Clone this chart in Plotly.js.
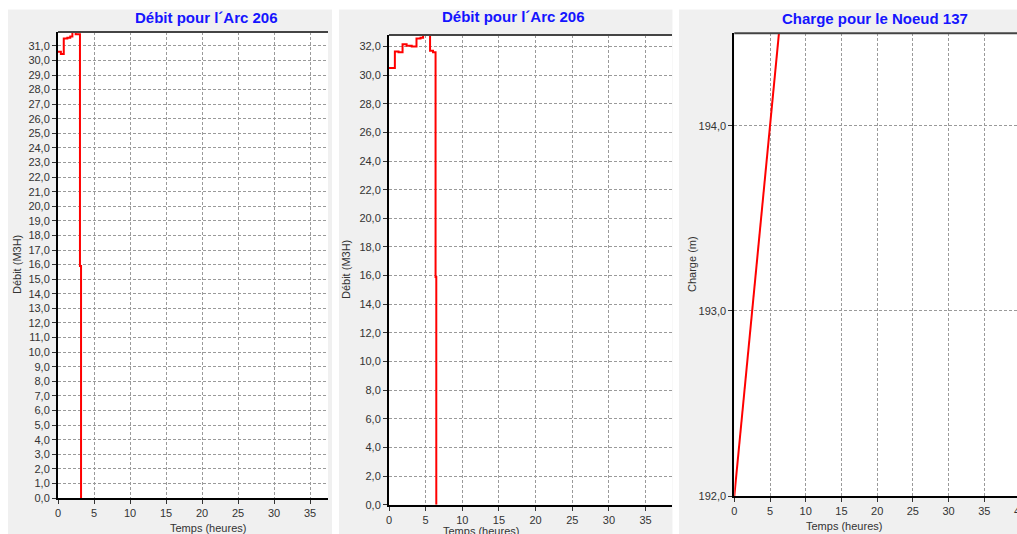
<!DOCTYPE html>
<html>
<head>
<meta charset="utf-8">
<script src="https://cdn.plot.ly/plotly-3.0.1.min.js"></script>
<style>
  html, body { margin: 0; padding: 0; background: #ffffff; overflow: hidden; }
  #chart { width: 1060px; height: 534px; }
</style>
</head>
<body>
<div id="chart"></div>
<script>
// ---- Data ----
const titles = ["Débit pour l´Arc 206", "Débit pour l´Arc 206", "Charge pour le Noeud 137"];
const xTitle = "Temps (heures)";
const yTitles = ["Débit (M3H)", "Débit (M3H)", "Charge (m)"];

// Panel 1: Débit Arc 206 (step series)
const t1 = [0, 0.4, 0.8, 1.3, 1.7, 2.0, 2.45, 3.05, 3.2];
const q1 = [30.6, 30.45, 31.5, 31.55, 31.65, 31.95, 31.8, 15.9, 0];

// Panel 2: Débit Arc 206 (step series)
const t2 = [0, 0.8, 1.3, 1.85, 2.4, 3.1, 3.75, 4.3, 4.65, 5.6, 6.0, 6.35, 6.45];
const q2 = [30.5, 31.65, 31.6, 32.15, 32.05, 32.0, 32.55, 32.6, 32.8, 31.7, 31.6, 15.9, 0];

// Panel 3: Charge Noeud 137
const t3 = [0, 0.25, 1, 2, 3, 4, 5, 6, 7];
const h3 = [192.0, 192.1, 192.38, 192.78, 193.18, 193.59, 194.0, 194.4, 194.8];

// ---- Layout helpers ----
const W = 1060, H = 534;
const px = v => v / W;
const py = v => 1 - v / H;

const red = { color: "#ff0000", width: 2 };
const traces = [
  { x: t1, y: q1, type: "scatter", mode: "lines", line: Object.assign({ shape: "hv" }, red), xaxis: "x", yaxis: "y", hoverinfo: "skip" },
  { x: t2, y: q2, type: "scatter", mode: "lines", line: Object.assign({ shape: "hv" }, red), xaxis: "x2", yaxis: "y2", hoverinfo: "skip" },
  { x: t3, y: h3, type: "scatter", mode: "lines", line: red, xaxis: "x3", yaxis: "y3", hoverinfo: "skip" }
];

const tickFont = { family: "Liberation Sans, Arial, sans-serif", size: 11, color: "#333333" };
const baseAxis = {
  showline: true, linecolor: "#000000", linewidth: 2,
  ticks: "outside", ticklen: 4, tickcolor: "#333333", tickwidth: 1,
  showgrid: true, gridcolor: "#9a9a9a", gridwidth: 1, griddash: "3px,2px",
  zeroline: false, tickfont: tickFont, fixedrange: true
};
function xa(domain, range, anchor) {
  return Object.assign({}, baseAxis, { domain: domain, range: range, dtick: 5, tick0: 0, anchor: anchor });
}
function ya(domain, range, dtick, anchor) {
  return Object.assign({}, baseAxis, { domain: domain, range: range, dtick: dtick, tick0: 0, tickformat: ".1f", anchor: anchor });
}

const annFont = { family: "Liberation Sans, Arial, sans-serif", size: 11, color: "#333333" };
const titleFont = { family: "Liberation Sans, Arial, sans-serif", size: 15, color: "#1414ff", weight: "bold" };
function ann(text, x, y, font, angle) {
  return { text: text, x: px(x), y: py(y), xref: "paper", yref: "paper", xanchor: "center", yanchor: "middle",
           showarrow: false, font: font, textangle: angle || 0 };
}

const annotations = [
  ann(titles[0], 206, 18, titleFont),
  ann(titles[1], 513, 17, titleFont),
  ann(titles[2], 875, 19, titleFont),
  ann(xTitle, 208, 528, annFont),
  ann(xTitle, 481, 531, annFont),
  ann(xTitle, 844, 526, annFont),
  ann(yTitles[0], 17, 265, annFont, -90),
  ann(yTitles[1], 346, 270, annFont, -90),
  ann(yTitles[2], 692, 264, annFont, -90)
];

const white = { type: "rect", xref: "paper", yref: "paper", fillcolor: "#ffffff", line: { width: 0 }, layer: "below" };
const shapes = [
  Object.assign({}, white, { x0: 0, x1: 1, y0: py(9.5), y1: 1 }),
  Object.assign({}, white, { x0: 0, x1: px(8), y0: 0, y1: 1 }),
  Object.assign({}, white, { x0: px(332), x1: px(339), y0: 0, y1: 1 }),
  Object.assign({}, white, { x0: px(672.5), x1: px(679), y0: 0, y1: 1 })
];
// top frame lines
[["x", "y"], ["x2", "y2"], ["x3", "y3"]].forEach(function (p) {
  shapes.push({ type: "line", xref: p[0] + " domain", yref: p[1] + " domain", x0: 0, x1: 1, y0: 1, y1: 1,
                line: { color: "#444444", width: 2 }, layer: "above" });
});

const layout = {
  width: W, height: H,
  margin: { l: 0, r: 0, t: 0, b: 0, pad: 0 },
  paper_bgcolor: "#f0f0f0",
  plot_bgcolor: "#ffffff",
  showlegend: false,
  separators: ", ",
  font: annFont,
  xaxis:  xa([px(58), px(328)], [0, 37.5], "y"),
  yaxis:  ya([1 - 498 / H, 1 - 32 / H], [0, 31.95], 1, "x"),
  xaxis2: xa([px(389), px(672)], [0, 38.6], "y2"),
  yaxis2: ya([1 - 504.7 / H, 1 - 35 / H], [0, 32.8], 2, "x2"),
  xaxis3: xa([px(734.3), px(1050)], [0, 44.2], "y3"),
  yaxis3: ya([1 - 496 / H, 1 - 33.3 / H], [192, 194.5], 1, "x3"),
  annotations: annotations,
  shapes: shapes
};

Plotly.newPlot("chart", traces, layout, { staticPlot: true, displayModeBar: false });
</script>
</body>
</html>
